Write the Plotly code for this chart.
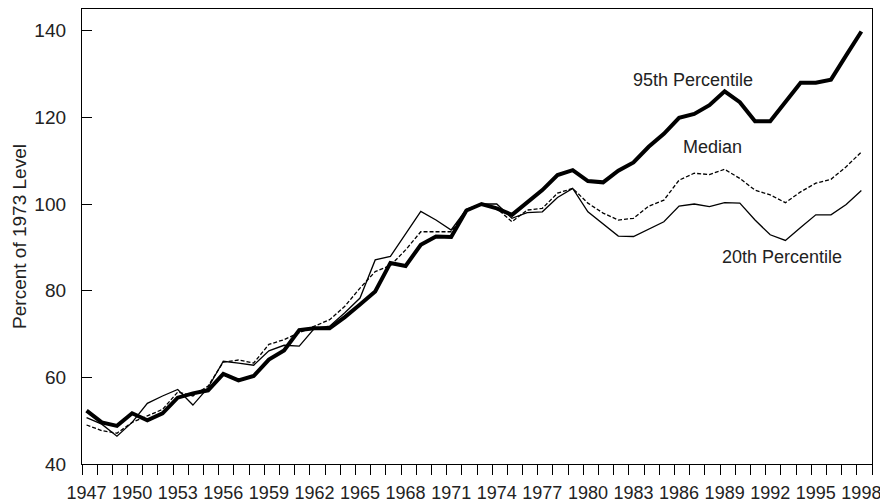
import plotly.graph_objects as go

years = list(range(1947, 1999))

p95 = [52.3, 49.6, 48.8, 51.7, 50.1, 51.7, 55.3, 56.3, 57.0, 60.8,
       59.3, 60.3, 64.1, 66.2, 70.9, 71.3, 71.3, 73.9, 76.8, 79.8,
       86.4, 85.7, 90.6, 92.5, 92.4, 98.5, 100.0, 99.0, 97.5, 100.3,
       103.2, 106.7, 107.8, 105.3, 105.0, 107.7, 109.6, 113.2, 116.2, 119.9,
       120.8, 122.8, 126.0, 123.5, 119.1, 119.1, 123.5, 128.0, 128.0, 128.7,
       134.3, 139.8]

median = [49.0, 47.7, 47.1, 49.6, 51.1, 52.6, 56.6, 55.7, 58.0, 63.5,
          64.0, 63.3, 67.6, 68.7, 70.3, 71.8, 73.3, 76.4, 80.6, 84.4,
          85.8, 89.4, 93.6, 93.6, 93.6, 98.5, 100.0, 99.0, 95.9, 98.6,
          99.0, 102.5, 103.6, 100.2, 97.9, 96.3, 96.7, 99.5, 100.9, 105.5,
          107.1, 106.8, 108.0, 105.9, 103.2, 102.1, 100.3, 102.8, 104.8, 105.7,
          108.6, 112.0]

p20 = [50.7, 49.2, 46.4, 49.6, 54.0, 55.7, 57.2, 53.6, 57.6, 63.7,
       63.3, 62.8, 66.1, 67.4, 67.2, 71.3, 71.8, 74.9, 78.3, 87.1,
       87.9, 93.0, 98.3, 96.3, 94.0, 98.8, 100.0, 100.0, 96.7, 98.0,
       98.2, 101.5, 103.6, 98.2, 95.4, 92.6, 92.5, 94.2, 95.9, 99.5,
       100.0, 99.4, 100.3, 100.2, 96.3, 92.9, 91.6, 94.6, 97.5, 97.5,
       99.9, 103.1]

label_years = list(range(1947, 1999, 3))
y_ticks = [40, 60, 80, 100, 120, 140]

labels = ["95th Percentile", "Median", "20th Percentile"]
label_x = [1986.9, 1988.2, 1992.8]
label_y = [128.7, 113.1, 87.75]

FONT = "Arial, Liberation Sans, sans-serif"
TXT = "#222222"

fig = go.Figure()
fig.add_trace(go.Scatter(x=years, y=p20, mode="lines",
                         line=dict(color="black", width=1.3), name="20th Percentile"))
fig.add_trace(go.Scatter(x=years, y=median, mode="lines",
                         line=dict(color="black", width=1.3, dash="4px,2px"), name="Median"))
fig.add_trace(go.Scatter(x=years, y=p95, mode="lines",
                         line=dict(color="black", width=4), name="95th Percentile"))

for t, xx, yy in zip(labels, label_x, label_y):
    fig.add_annotation(x=xx, y=yy, xref="x", yref="y", text=t, showarrow=False,
                       font=dict(family=FONT, size=18, color=TXT))

fig.update_layout(
    template="none",
    width=880, height=496,
    margin=dict(l=74, r=16, t=1, b=40, autoexpand=False),
    paper_bgcolor="white", plot_bgcolor="white",
    showlegend=False,
    font=dict(family=FONT, size=18, color=TXT),
)
fig.update_xaxes(
    automargin=False,
    range=[1946.7, 1998.7],
    tickmode="array", tickvals=label_years, ticktext=[str(y) for y in label_years],
    ticks="", ticklen=0, showgrid=False, zeroline=False,
    showline=True, linecolor="black", linewidth=1.3, mirror=True,
    tickfont=dict(family=FONT, size=18, color=TXT),
    ticklabelstandoff=12,
    minor=dict(tick0=1946.7, dtick=1, ticks="outside", ticklen=10,
               tickcolor="black", tickwidth=1.2, showgrid=False),
)
fig.update_yaxes(
    automargin=False,
    range=[40, 145.0],
    tickmode="array", tickvals=y_ticks,
    ticks="inside", ticklen=10, tickcolor="black", tickwidth=1.2,
    showgrid=False, zeroline=False,
    showline=True, linecolor="black", linewidth=1.3, mirror=True,
    tickfont=dict(family=FONT, size=19, color=TXT),
    ticklabelstandoff=11,
    title=dict(text="Percent of 1973 Level", standoff=2,
               font=dict(family=FONT, size=19, color=TXT)),
)

fig.write_html("out.html")
